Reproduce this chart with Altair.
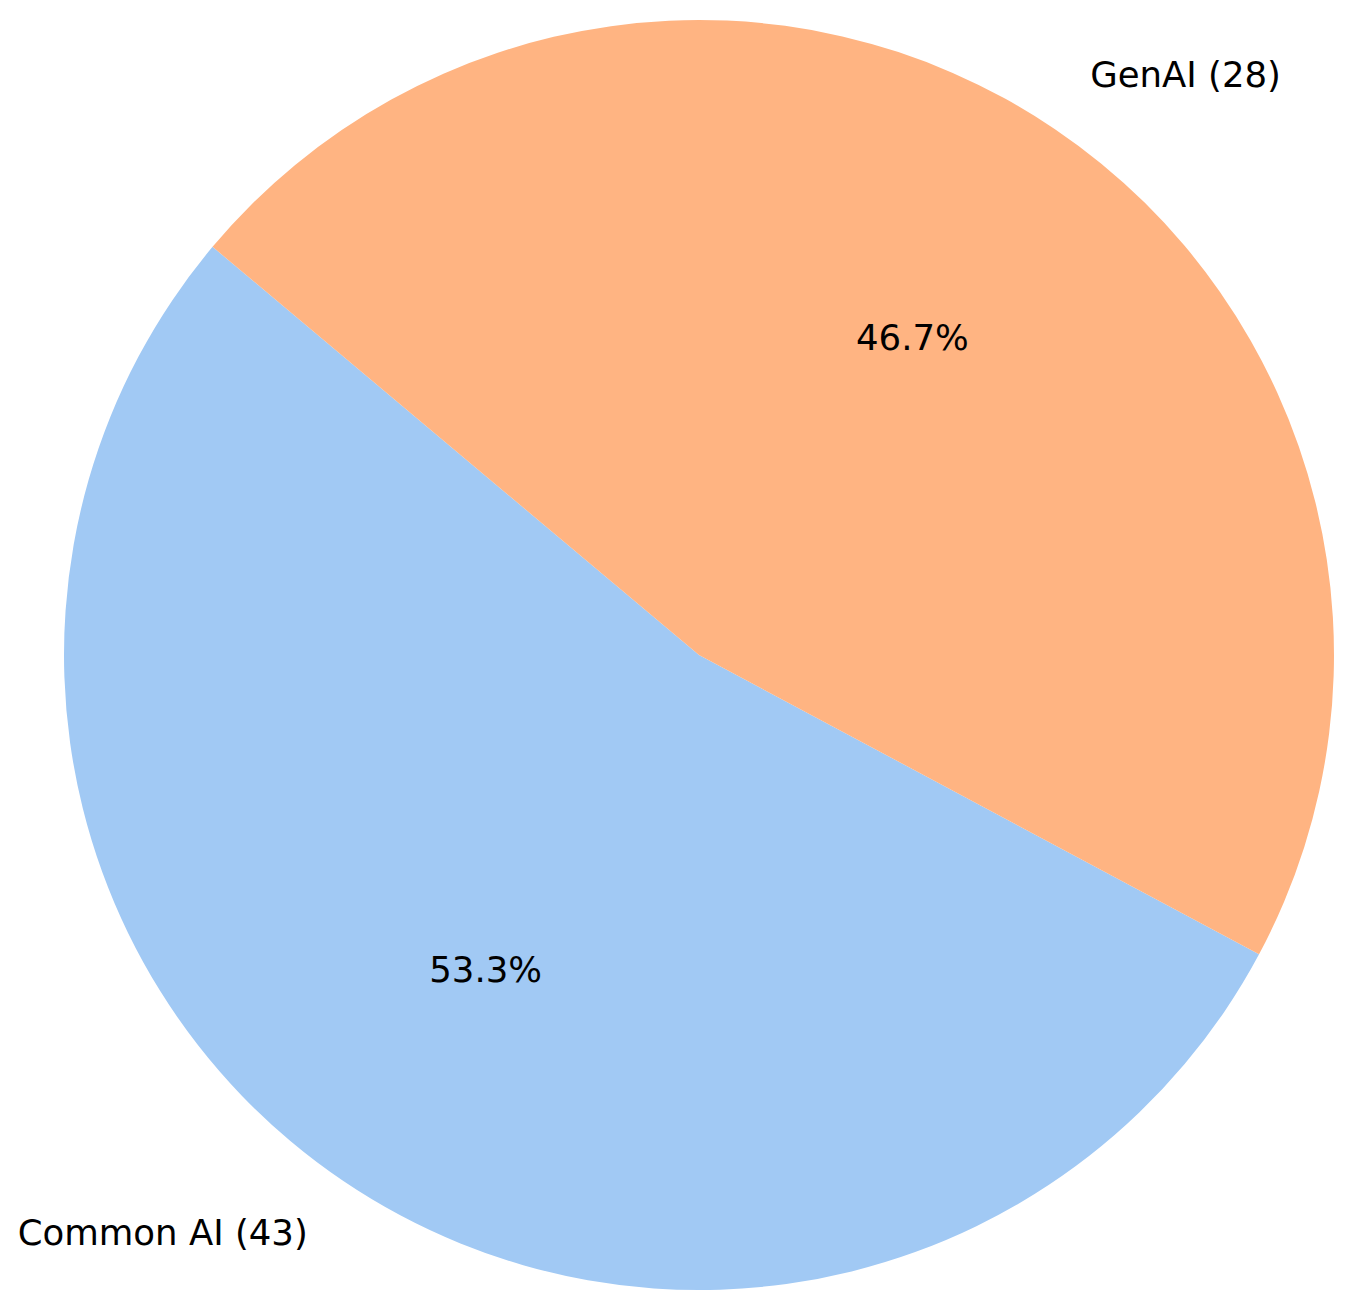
import math
import altair as alt
import pandas as pd

categories = ["Common AI", "GenAI"]
counts = [43, 28]
shares = [53.3, 46.7]
colors = ["#a1c9f4", "#ffb482"]

df = pd.DataFrame({
    "category": categories,
    "count": counts,
    "share": shares,
    "order": list(range(len(categories))),
})
df["label"] = [f"{c} ({n})" for c, n in zip(categories, counts)]
df["pct"] = [f"{s:.1f}%" for s in shares]

# matplotlib-style startangle=140, counterclockwise -> Vega clockwise range
start = math.radians(90 - 140 - 360 * shares[0] / 100)
theta_scale = alt.Scale(domain=[0, sum(shares)], range=[start, start + 2 * math.pi])

CX, CY, R = 691, 647, 635
FONT = "DejaVu Sans"
FS = 35.5

base = alt.Chart(df).transform_window(
    s1="sum(share)", sort=[alt.SortField("order")]
).transform_calculate(
    s0="datum.s1 - datum.share",
    mid="datum.s1 - datum.share / 2",
).encode(
    x=alt.value(CX),
    y=alt.value(CY),
)

pie = base.mark_arc(outerRadius=R, stroke=None).encode(
    theta=alt.Theta("s0:Q", scale=theta_scale),
    theta2="s1:Q",
    color=alt.Color("category:N", scale=alt.Scale(domain=categories, range=colors), legend=None),
)

text_base = base.encode(theta=alt.Theta("mid:Q", scale=theta_scale))

lab_left = text_base.transform_filter(alt.datum.category == "Common AI").mark_text(
    radius=R * 1.1, align="right", baseline="middle", font=FONT, fontSize=FS, color="black"
).encode(text="label:N")

lab_right = text_base.transform_filter(alt.datum.category == "GenAI").mark_text(
    radius=R * 1.1, align="left", baseline="middle", font=FONT, fontSize=FS, color="black"
).encode(text="label:N")

pct = text_base.mark_text(
    radius=R * 0.6, align="center", baseline="middle", font=FONT, fontSize=FS, color="black"
).encode(text="pct:N")

chart = alt.layer(pie, lab_left, lab_right, pct).properties(
    width=1343, height=1299, autosize=alt.AutoSizeParams(type="none"), padding=0
).configure_view(stroke=None)

chart.save("out.html", embed_options={"renderer": "svg", "actions": False})
